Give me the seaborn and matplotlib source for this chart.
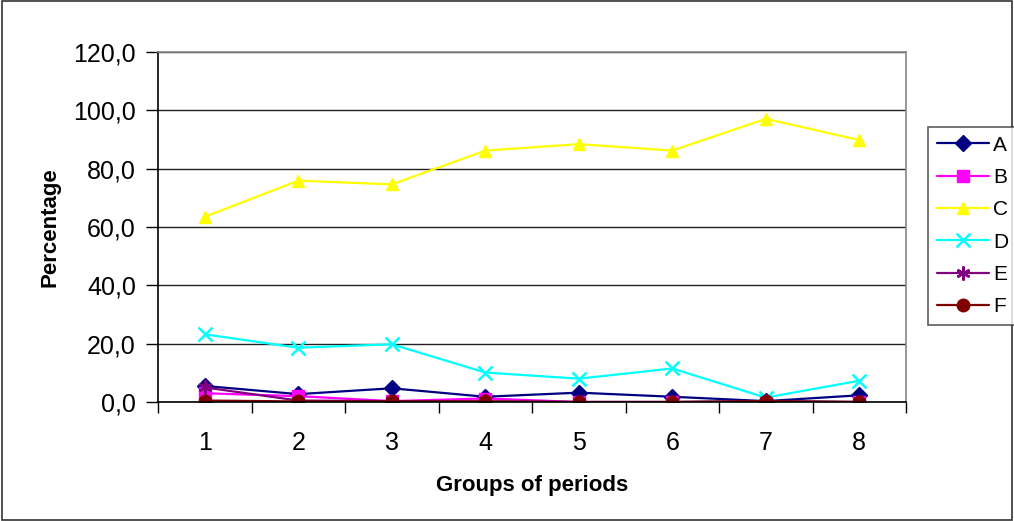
import matplotlib
matplotlib.use("Agg")
import matplotlib.pyplot as plt
from matplotlib.patches import Rectangle
import seaborn as sns
import pandas as pd
import numpy as np

# Period groups and the share (%) of each category per group
groups = ["1", "2", "3", "4", "5", "6", "7", "8"]
series_names = ["A", "B", "C", "D", "E", "F"]
a_vals = [5.5, 2.7, 4.7, 1.8, 3.2, 1.8, 0.3, 2.3]
b_vals = [3.0, 2.0, 0.3, 1.2, 0.0, 0.0, 0.0, 0.0]
c_vals = [63.5, 75.9, 74.6, 86.2, 88.4, 86.2, 97.1, 89.8]
d_vals = [23.2, 18.6, 19.8, 10.1, 8.0, 11.5, 1.5, 7.3]
e_vals = [5.0, 0.5, 0.3, 0.2, 0.0, 0.0, 0.3, 0.0]
f_vals = [0.5, 0.2, 0.2, 0.2, 0.0, 0.0, 0.3, 0.0]
y_ticks = [0, 20, 40, 60, 80, 100, 120]
y_tick_labels = ["0,0", "20,0", "40,0", "60,0", "80,0", "100,0", "120,0"]

values = [a_vals, b_vals, c_vals, d_vals, e_vals, f_vals]
colors = ["#000080", "#FF00FF", "#FFFF00", "#00FFFF", "#800080", "#800000"]
markers = ["D", "s", "^", "x", (6, 2, 0), "o"]
msizes = [8.5, 8, 9, 10, 10, 9]

rows = []
for name, vals in zip(series_names, values):
    for i, v in enumerate(vals):
        rows.append({"series": name, "pos": i, "value": v})
df = pd.DataFrame(rows)

sns.set_theme(style="white")
plt.rcParams["font.family"] = ["Liberation Sans", "DejaVu Sans"]
plt.rcParams["text.color"] = "black"
plt.rcParams["axes.labelcolor"] = "black"
plt.rcParams["xtick.color"] = "black"
plt.rcParams["ytick.color"] = "black"

fig = plt.figure(figsize=(10.14, 5.21), dpi=100)
ax = fig.add_axes([158 / 1014, 1 - 402 / 521, 748 / 1014, 350 / 521])

for name, col, mk, ms in zip(series_names, colors, markers, msizes):
    sub = df[df["series"] == name]
    mew = 1.8 if mk in ("x",) or isinstance(mk, tuple) else 1.0
    sns.lineplot(data=sub, x="pos", y="value", ax=ax, color=col, marker=mk,
                 markersize=ms, markeredgecolor=col, markerfacecolor=col,
                 markeredgewidth=mew, linewidth=1.6, label=name, legend=False)

ax.set_xlim(-0.5, len(groups) - 0.5)
ax.set_ylim(0, 120)

# Value axis: gridlines at every major tick, outward ticks
ax.set_yticks(y_ticks)
ax.set_yticklabels(y_tick_labels, fontsize=18)
ax.yaxis.grid(True, color="#222222", linewidth=1.0)
ax.tick_params(axis="y", which="major", direction="out", length=9, width=1,
               color="black", left=True, pad=7)

# Category axis: labels centred on groups, tick marks between groups
ax.set_xticks(range(len(groups)))
ax.set_xticklabels(groups, fontsize=18)
ax.set_xticks(np.arange(-0.5, len(groups), 1.0), minor=True)
ax.tick_params(axis="x", which="major", length=0, pad=21)
ax.tick_params(axis="x", which="minor", direction="out", length=8, width=1,
               color="black", bottom=True)
ax.xaxis.grid(False)

ax.set_xlabel("Groups of periods", fontsize=16, fontweight="bold", labelpad=14)
ax.set_ylabel("Percentage", fontsize=16, fontweight="bold", labelpad=9)

for side in ("left", "bottom"):
    ax.spines[side].set_color("black")
    ax.spines[side].set_linewidth(1.2)
for side in ("right", "top"):
    ax.spines[side].set_color("#888888")
    ax.spines[side].set_linewidth(1.2)

handles, labels = ax.get_legend_handles_labels()
leg = fig.legend(handles, labels, loc="upper left",
                 bbox_to_anchor=(928 / 1014, 1 - 127 / 521),
                 fontsize=15, frameon=True, fancybox=False, handlelength=2.5,
                 handletextpad=0.2, labelspacing=0.64, borderpad=0.42,
                 borderaxespad=0)
leg.get_frame().set_edgecolor("#333333")
leg.get_frame().set_linewidth(1.2)

# Outer chart border
fig.patches.append(Rectangle((0.002, 0.002), 0.996, 0.996, transform=fig.transFigure,
                             fill=False, edgecolor="#333333", linewidth=1.2))

fig.savefig("out.png", dpi=100)
